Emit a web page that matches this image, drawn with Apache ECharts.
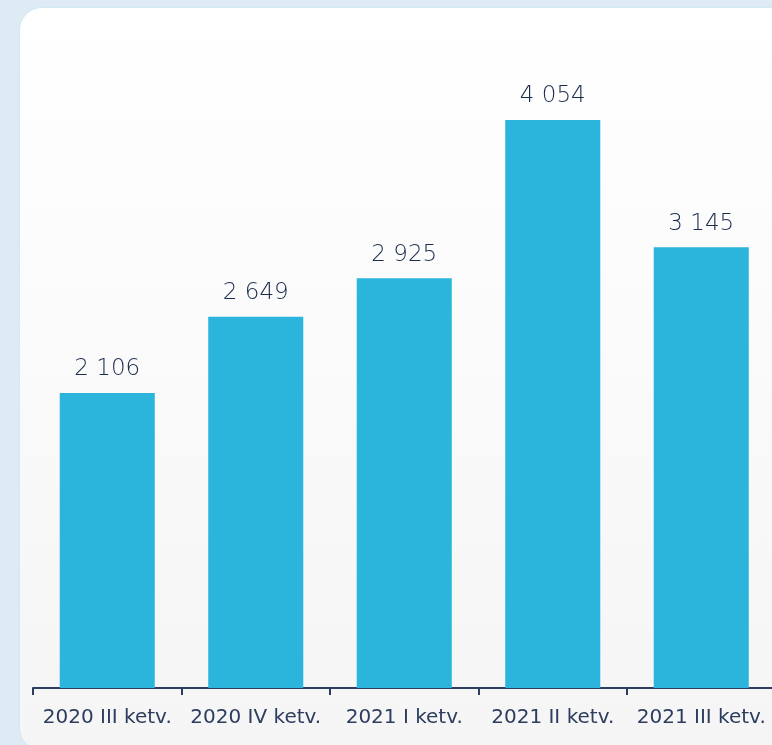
<!DOCTYPE html>
<html>
<head>
<meta charset="utf-8">
<script src="https://cdn.jsdelivr.net/npm/echarts@6/dist/echarts.min.js"></script>
<style>
html, body {
  margin: 0;
  padding: 0;
  width: 772px;
  height: 745px;
  overflow: hidden;
  background: #deebf4;
}
.card {
  position: absolute;
  left: 20px;
  top: 8px;
  width: 780px;
  height: 742px;
  border-radius: 22px;
  background: linear-gradient(#ffffff, #f5f5f6);
  box-shadow: 0 0 2px 1px #cfe8f5;
}
#chart {
  position: absolute;
  left: 0;
  top: 0;
  width: 800px;
  height: 745px;
}
</style>
</head>
<body>
<div class="card"></div>
<div id="chart"></div>
<script>
const quarters = ['2020 III ketv.', '2020 IV ketv.', '2021 I ketv.', '2021 II ketv.', '2021 III ketv.']
const counts = [2106, 2649, 2925, 4054, 3145]

// thousands with a space, like "4 054"
function fmt(v) {
  return String(v).replace(/\B(?=(\d{3})+(?!\d))/g, ' ')
}

// chart div is a bit wider than the window so the last category can run past the edge
const chart = echarts.init(document.getElementById('chart'), null, { renderer: 'canvas' })
chart.setOption({
  backgroundColor: 'transparent',
  animation: false,
  grid: {
    left: 33,
    top: 57.5,
    width: 742.5,
    height: 630.5
  },
  xAxis: {
    type: 'category',
    data: quarters,
    axisLine: { show: true, lineStyle: { color: '#2c3d5e', width: 2 } },
    axisTick: { show: true, length: 7, lineStyle: { color: '#2c3d5e', width: 2 } },
    axisLabel: {
      color: '#2c3d5e',
      fontFamily: 'DejaVu Sans',
      fontSize: 20,
      margin: 20,
      interval: 0
    }
  },
  yAxis: {
    type: 'value',
    min: 0,
    max: 4500,
    show: false,
    splitLine: { show: false }
  },
  series: [{
    type: 'bar',
    data: counts,
    barWidth: '64%',
    itemStyle: { color: '#2bb5dd' },
    label: {
      show: true,
      position: 'top',
      distance: 12,
      color: '#1a2b4c',
      fontFamily: 'DejaVu Sans',
      fontWeight: 200,
      fontSize: 23,
      formatter: p => fmt(p.value)
    }
  }]
})
</script>
</body>
</html>
